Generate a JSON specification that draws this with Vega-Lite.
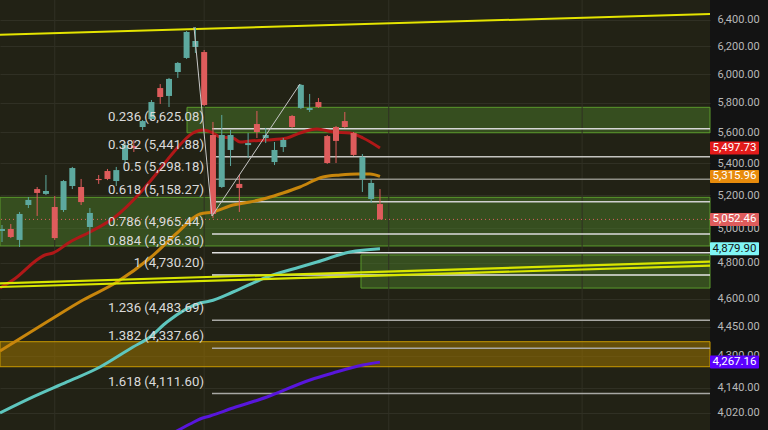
{
"$schema": "https://vega.github.io/schema/vega-lite/v6.json",
"width": 710,
"height": 430,
"autosize": {"type": "none"},
"padding": {"left": 0, "top": 0, "right": 58, "bottom": 0},
"background": "#131313",
"config": {"view": {"fill": "#222215", "stroke": null}, "font": "Roboto", "scale": {"continuousPadding": 0},
"axisY": {"format": ",.2f", "title": null, "ticks": false, "domain": false, "labelPadding": 7, "labelAlign": "left", "labelColor": "#b8b8b8", "labelFontSize": 11, "labelFont": "Roboto", "labelOverlap": false, "grid": true, "gridColor": "#303024", "gridWidth": 1}},
"datasets": {
"candles": [
{"i":0,"o":4983,"h":5019,"l":4919,"c":4995},
{"i":1,"o":4995,"h":5025,"l":4942,"c":4948},
{"i":2,"o":4931,"h":5097,"l":4890,"c":5085},
{"i":3,"o":5139,"h":5188,"l":5121,"c":5170},
{"i":4,"o":5237,"h":5250,"l":5073,"c":5213},
{"i":5,"o":5207,"h":5325,"l":5200,"c":5225},
{"i":6,"o":5127,"h":5194,"l":4931,"c":4942},
{"i":7,"o":5109,"h":5293,"l":5097,"c":5287},
{"i":8,"o":5256,"h":5376,"l":5237,"c":5369},
{"i":9,"o":5250,"h":5300,"l":5139,"c":5157},
{"i":10,"o":5007,"h":5121,"l":4896,"c":5091},
{"i":11,"o":5300,"h":5325,"l":5269,"c":5293},
{"i":12,"o":5350,"h":5363,"l":5293,"c":5300},
{"i":13,"o":5287,"h":5376,"l":5256,"c":5356},
{"i":14,"o":5420,"h":5537,"l":5395,"c":5517},
{"i":15,"o":5511,"h":5550,"l":5472,"c":5498},
{"i":16,"o":5636,"h":5683,"l":5616,"c":5676},
{"i":17,"o":5690,"h":5819,"l":5683,"c":5805},
{"i":18,"o":5902,"h":5930,"l":5792,"c":5840},
{"i":19,"o":5847,"h":5973,"l":5771,"c":5966},
{"i":20,"o":6015,"h":6087,"l":5973,"c":6080},
{"i":21,"o":6116,"h":6314,"l":6109,"c":6307},
{"i":22,"o":6196,"h":6344,"l":6152,"c":6240},
{"i":23,"o":6159,"h":6174,"l":5778,"c":5785},
{"i":24,"o":5583,"h":5670,"l":5061,"c":5085},
{"i":25,"o":5250,"h":5717,"l":5244,"c":5583},
{"i":26,"o":5485,"h":5616,"l":5382,"c":5583},
{"i":27,"o":5269,"h":5325,"l":5097,"c":5244},
{"i":28,"o":5517,"h":5596,"l":5433,"c":5530},
{"i":29,"o":5656,"h":5744,"l":5563,"c":5603},
{"i":30,"o":5563,"h":5630,"l":5530,"c":5583},
{"i":31,"o":5407,"h":5537,"l":5388,"c":5485},
{"i":32,"o":5504,"h":5563,"l":5472,"c":5550},
{"i":33,"o":5710,"h":5717,"l":5630,"c":5636},
{"i":34,"o":5764,"h":5930,"l":5757,"c":5924},
{"i":35,"o":5751,"h":5861,"l":5737,"c":5764},
{"i":36,"o":5805,"h":5833,"l":5764,"c":5771},
{"i":37,"o":5576,"h":5583,"l":5395,"c":5401},
{"i":38,"o":5636,"h":5643,"l":5401,"c":5544},
{"i":39,"o":5676,"h":5737,"l":5630,"c":5636},
{"i":40,"o":5596,"h":5603,"l":5446,"c":5453},
{"i":41,"o":5300,"h":5459,"l":5219,"c":5440},
{"i":42,"o":5176,"h":5300,"l":5151,"c":5275},
{"i":43,"o":5145,"h":5237,"l":5052.46,"c":5052.46}
],
"lines": [
{"s":"ma1","i":-0.23,"v":4658.4},{"s":"ma1","i":1.25,"v":4702.6},{"s":"ma1","i":4.89,"v":4843.9},{"s":"ma1","i":5.8,"v":4855.4},{"s":"ma1","i":7.74,"v":4919},{"s":"ma1","i":10.01,"v":4977.6},{"s":"ma1","i":12.86,"v":5066.7},{"s":"ma1","i":15.7,"v":5212.6},{"s":"ma1","i":17.63,"v":5337.5},{"s":"ma1","i":19.45,"v":5465.4},{"s":"ma1","i":21.73,"v":5596.3},{"s":"ma1","i":22.87,"v":5616.1},{"s":"ma1","i":24.0,"v":5596.3},{"s":"ma1","i":24.8,"v":5569.8},{"s":"ma1","i":26.28,"v":5563.2},{"s":"ma1","i":27.08,"v":5536.9},{"s":"ma1","i":28.21,"v":5543.5},{"s":"ma1","i":30.15,"v":5550},{"s":"ma1","i":32.42,"v":5563.2},{"s":"ma1","i":33.9,"v":5596.3},{"s":"ma1","i":35.84,"v":5622.8},{"s":"ma1","i":37.66,"v":5602.9},{"s":"ma1","i":39.59,"v":5596.3},{"s":"ma1","i":41.07,"v":5563.2},{"s":"ma1","i":43.0,"v":5497.73},
{"s":"ma2","i":-0.23,"v":4323.7},{"s":"ma2","i":5.46,"v":4485.2},{"s":"ma2","i":9.22,"v":4592.6},{"s":"ma2","i":13.08,"v":4691.5},{"s":"ma2","i":16.84,"v":4826.7},{"s":"ma2","i":19.91,"v":4971.7},{"s":"ma2","i":22.53,"v":5084.8},{"s":"ma2","i":24.0,"v":5096.8},{"s":"ma2","i":26.28,"v":5139.2},{"s":"ma2","i":28.21,"v":5157.4},{"s":"ma2","i":30.15,"v":5182},{"s":"ma2","i":31.97,"v":5212.6},{"s":"ma2","i":33.9,"v":5249.8},{"s":"ma2","i":36.52,"v":5312.3},{"s":"ma2","i":38.45,"v":5324.9},{"s":"ma2","i":40.39,"v":5331.2},{"s":"ma2","i":41.87,"v":5331.2},{"s":"ma2","i":43.0,"v":5315.96},
{"s":"ma3","i":-0.23,"v":4017.7},{"s":"ma3","i":3.53,"v":4094.7},{"s":"ma3","i":7.39,"v":4168.1},{"s":"ma3","i":11.15,"v":4242.7},{"s":"ma3","i":14.9,"v":4344.2},{"s":"ma3","i":16.84,"v":4395.9},{"s":"ma3","i":18.77,"v":4474.6},{"s":"ma3","i":22.53,"v":4576.4},{"s":"ma3","i":23.66,"v":4587},{"s":"ma3","i":26.28,"v":4636.4},{"s":"ma3","i":30.15,"v":4719.4},{"s":"ma3","i":33.9,"v":4775.6},{"s":"ma3","i":35.84,"v":4803.9},{"s":"ma3","i":39.59,"v":4861.1},{"s":"ma3","i":43.0,"v":4879.9},
{"s":"ma4","i":19.68,"v":3928.5},{"s":"ma4","i":21.39,"v":3965.7},{"s":"ma4","i":22.53,"v":3989.4},{"s":"ma4","i":23.66,"v":4003.6},{"s":"ma4","i":26.28,"v":4041.7},{"s":"ma4","i":30.15,"v":4094.7},{"s":"ma4","i":35.04,"v":4177.9},{"s":"ma4","i":37.66,"v":4212.7},{"s":"ma4","i":41.07,"v":4252.8},{"s":"ma4","i":43.0,"v":4267.16},
{"s":"y1","i":-0.2275,"v":6286.7},{"s":"y1","i":80.546,"v":6442.6},
{"s":"y2","i":-0.2275,"v":4684.4},{"s":"y2","i":80.546,"v":4805.6},
{"s":"y3","i":-0.2275,"v":4663.9},{"s":"y3","i":80.546,"v":4783},
{"s":"dg","i":21.84,"v":6344.3},{"s":"dg","i":23.89,"v":5072.7},{"s":"dg","i":33.9,"v":5930.4}
],
"zones": [
{"z":"g","i1":21.05,"i2":80.546,"v1":5769,"v2":5598},
{"z":"g","i1":-0.2275,"i2":80.546,"v1":5186,"v2":4896},
{"z":"g","i1":40.84,"i2":80.546,"v1":4844,"v2":4658},
{"z":"o","i1":-0.2275,"i2":80.546,"v1":4371.5,"v2":4244}
],
"fib": [
{"lvl":"0.236","v":5625.08,"label":"0.236 (5,625.08)"},
{"lvl":"0.382","v":5441.88,"label":"0.382 (5,441.88)"},
{"lvl":"0.5","v":5298.18,"label":"0.5 (5,298.18)"},
{"lvl":"0.618","v":5158.27,"label":"0.618 (5,158.27)"},
{"lvl":"0.786","v":4965.44,"label":"0.786 (4,965.44)"},
{"lvl":"0.884","v":4856.30,"label":"0.884 (4,856.30)"},
{"lvl":"1","v":4730.20,"label":"1 (4,730.20)"},
{"lvl":"1.236","v":4483.69,"label":"1.236 (4,483.69)"},
{"lvl":"1.382","v":4337.66,"label":"1.382 (4,337.66)"},
{"lvl":"1.618","v":4111.60,"label":"1.618 (4,111.60)"}
],
"tags": [
{"k":"ma1","v":5497.73},
{"k":"ma2","v":5315.96},
{"k":"last","v":5052.46},
{"k":"ma3","v":4879.90},
{"k":"ma4","v":4267.16}
],
"vgrid": [{"i":6},{"i":23},{"i":44},{"i":66}]
},
"layer": [
{
"data": {"name": "zones"},
"transform": [{"filter": "datum.z == 'g'"}],
"mark": {"type": "rect", "fill": "#4a7a2a", "fillOpacity": 0.5, "stroke": "#5a9a2c", "strokeWidth": 1},
"encoding": {
"x": {"field": "i1", "type": "quantitative", "scale": {"domain": [-0.2275, 80.546], "nice": false, "zero": false, "padding": 0}, "axis": null},
"x2": {"field": "i2"},
"y": {"field": "v1", "type": "quantitative", "scale": {"type": "log", "domain": [3937.8, 6550.2], "nice": false, "padding": 0}, "axis": {"orient": "right", "title": null, "values": [6400,6200,6000,5800,5600,5400,5200,5000,4800,4600,4450,4300,4140,4020]}},
"y2": {"field": "v2"}
}
},
{
"data": {"name": "vgrid"},
"mark": {"type": "rule", "color": "#303024", "strokeWidth": 1},
"encoding": {
"x": {"field": "i", "type": "quantitative", "scale": {"domain": [-0.2275, 80.546], "nice": false, "zero": false, "padding": 0}, "axis": null}
}
},
{
"data": {"name": "zones"},
"transform": [{"filter": "datum.z == 'o'"}],
"mark": {"type": "rect", "fill": "#9a7300", "fillOpacity": 0.55, "stroke": "#c99a00", "strokeWidth": 1},
"encoding": {
"x": {"field": "i1", "type": "quantitative", "scale": {"domain": [-0.2275, 80.546], "nice": false, "zero": false, "padding": 0}, "axis": null},
"x2": {"field": "i2"},
"y": {"field": "v1", "type": "quantitative", "scale": {"type": "log", "domain": [3937.8, 6550.2], "nice": false, "padding": 0}, "axis": {"orient": "right", "title": null, "values": [6400,6200,6000,5800,5600,5400,5200,5000,4800,4600,4450,4300,4140,4020]}},
"y2": {"field": "v2"}
}
},
{
"data": {"name": "fib"},
"mark": {"type": "rule", "strokeWidth": 1.5},
"encoding": {
"x": {"datum": 23.89, "type": "quantitative", "scale": {"domain": [-0.2275, 80.546], "nice": false, "zero": false, "padding": 0}, "axis": null},
"x2": {"datum": 80.546},
"y": {"field": "v", "type": "quantitative", "scale": {"type": "log", "domain": [3937.8, 6550.2], "nice": false, "padding": 0}, "axis": {"orient": "right", "title": null, "values": [6400,6200,6000,5800,5600,5400,5200,5000,4800,4600,4450,4300,4140,4020]}},
"color": {"field": "lvl", "type": "nominal", "legend": null, "scale": {"domain": ["0.236","0.382","0.5","0.618","0.786","0.884","1","1.236","1.382","1.618"], "range": ["#d6d6d6","#c4c4c0","#8e8e86","#d0d0d0","#dcdcdc","#e0e0e0","#e6e6e6","#a8a8a4","#a8a8a4","#a8a8a4"]}}
}
},
{
"data": {"values": [{"v": 5052.46}]},
"mark": {"type": "rule", "color": "#e06060", "strokeWidth": 1, "strokeDash": [1, 3]},
"encoding": {
"y": {"field": "v", "type": "quantitative", "scale": {"type": "log", "domain": [3937.8, 6550.2], "nice": false, "padding": 0}, "axis": {"orient": "right", "title": null, "values": [6400,6200,6000,5800,5600,5400,5200,5000,4800,4600,4450,4300,4140,4020]}}
}
},
{
"data": {"name": "lines"},
"transform": [{"filter": "indexof(['ma1','ma2','ma3','ma4'], datum.s) >= 0"}],
"mark": {"type": "line", "strokeWidth": 3, "interpolate": "monotone"},
"encoding": {
"x": {"field": "i", "type": "quantitative", "scale": {"domain": [-0.2275, 80.546], "nice": false, "zero": false, "padding": 0}, "axis": null},
"y": {"field": "v", "type": "quantitative", "scale": {"type": "log", "domain": [3937.8, 6550.2], "nice": false, "padding": 0}, "axis": {"orient": "right", "title": null, "values": [6400,6200,6000,5800,5600,5400,5200,5000,4800,4600,4450,4300,4140,4020]}},
"stroke": {"field": "s", "type": "nominal", "legend": null, "scale": {"domain": ["ma1","ma2","ma3","ma4"], "range": ["#b01818","#c8860c","#5ec6be","#5816dc"]}},
"order": {"field": "i", "type": "quantitative"}
}
},
{
"data": {"name": "lines"},
"transform": [{"filter": "datum.s == 'y2' || datum.s == 'y3'"}],
"mark": {"type": "line", "strokeWidth": 2.2, "color": "#d8e600"},
"encoding": {
"x": {"field": "i", "type": "quantitative", "scale": {"domain": [-0.2275, 80.546], "nice": false, "zero": false, "padding": 0}, "axis": null},
"y": {"field": "v", "type": "quantitative", "scale": {"type": "log", "domain": [3937.8, 6550.2], "nice": false, "padding": 0}, "axis": {"orient": "right", "title": null, "values": [6400,6200,6000,5800,5600,5400,5200,5000,4800,4600,4450,4300,4140,4020]}},
"detail": {"field": "s"},
"order": {"field": "i", "type": "quantitative"}
}
},
{
"data": {"name": "lines"},
"transform": [{"filter": "datum.s == 'y1'"}],
"mark": {"type": "line", "strokeWidth": 2, "color": "#e4e400"},
"encoding": {
"x": {"field": "i", "type": "quantitative", "scale": {"domain": [-0.2275, 80.546], "nice": false, "zero": false, "padding": 0}, "axis": null},
"y": {"field": "v", "type": "quantitative", "scale": {"type": "log", "domain": [3937.8, 6550.2], "nice": false, "padding": 0}, "axis": {"orient": "right", "title": null, "values": [6400,6200,6000,5800,5600,5400,5200,5000,4800,4600,4450,4300,4140,4020]}},
"order": {"field": "i", "type": "quantitative"}
}
},
{
"data": {"name": "candles"},
"mark": {"type": "rule", "strokeWidth": 1},
"encoding": {
"x": {"field": "i", "type": "quantitative", "scale": {"domain": [-0.2275, 80.546], "nice": false, "zero": false, "padding": 0}, "axis": null},
"y": {"field": "l", "type": "quantitative", "scale": {"type": "log", "domain": [3937.8, 6550.2], "nice": false, "padding": 0}, "axis": {"orient": "right", "title": null, "values": [6400,6200,6000,5800,5600,5400,5200,5000,4800,4600,4450,4300,4140,4020]}},
"y2": {"field": "h"},
"color": {"condition": {"test": "datum.c >= datum.o", "value": "#5da99f"}, "value": "#de5c5c"}
}
},
{
"data": {"name": "candles"},
"mark": {"type": "bar", "width": 6},
"encoding": {
"x": {"field": "i", "type": "quantitative", "scale": {"domain": [-0.2275, 80.546], "nice": false, "zero": false, "padding": 0}, "axis": null},
"y": {"field": "o", "type": "quantitative", "scale": {"type": "log", "domain": [3937.8, 6550.2], "nice": false, "padding": 0}, "axis": {"orient": "right", "title": null, "values": [6400,6200,6000,5800,5600,5400,5200,5000,4800,4600,4450,4300,4140,4020]}},
"y2": {"field": "c"},
"color": {"condition": {"test": "datum.c >= datum.o", "value": "#5da99f"}, "value": "#de5c5c"}
}
},
{
"data": {"name": "lines"},
"transform": [{"filter": "datum.s == 'dg'"}],
"mark": {"type": "line", "strokeWidth": 1, "color": "#c8c8c8"},
"encoding": {
"x": {"field": "i", "type": "quantitative", "scale": {"domain": [-0.2275, 80.546], "nice": false, "zero": false, "padding": 0}, "axis": null},
"y": {"field": "v", "type": "quantitative", "scale": {"type": "log", "domain": [3937.8, 6550.2], "nice": false, "padding": 0}, "axis": {"orient": "right", "title": null, "values": [6400,6200,6000,5800,5600,5400,5200,5000,4800,4600,4450,4300,4140,4020]}},
"order": {"field": "i", "type": "quantitative"}
}
},
{
"data": {"name": "fib"},
"mark": {"type": "text", "align": "right", "baseline": "middle", "dy": -12, "fontSize": 13.2, "font": "Roboto", "color": "#dadada"},
"encoding": {
"x": {"datum": 22.98, "type": "quantitative", "scale": {"domain": [-0.2275, 80.546], "nice": false, "zero": false, "padding": 0}, "axis": null},
"y": {"field": "v", "type": "quantitative", "scale": {"type": "log", "domain": [3937.8, 6550.2], "nice": false, "padding": 0}, "axis": {"orient": "right", "title": null, "values": [6400,6200,6000,5800,5600,5400,5200,5000,4800,4600,4450,4300,4140,4020]}},
"text": {"field": "label"}
}
},
{
"data": {"name": "tags"},
"mark": {"type": "bar", "height": 13, "cornerRadius": 1},
"encoding": {
"x": {"datum": 80.546, "type": "quantitative", "scale": {"domain": [-0.2275, 80.546], "nice": false, "zero": false, "padding": 0}, "axis": null},
"x2": {"datum": 86.12},
"y": {"field": "v", "type": "quantitative", "scale": {"type": "log", "domain": [3937.8, 6550.2], "nice": false, "padding": 0}, "axis": {"orient": "right", "title": null, "values": [6400,6200,6000,5800,5600,5400,5200,5000,4800,4600,4450,4300,4140,4020]}},
"fill": {"field": "k", "type": "nominal", "legend": null, "scale": {"domain": ["ma1","ma2","last","ma3","ma4"], "range": ["#e31b1b","#e88b0c","#de5c5c","#80f6f6","#5c00ff"]}}
}
},
{
"data": {"name": "tags"},
"mark": {"type": "text", "align": "center", "baseline": "middle", "fontSize": 11.5, "font": "Roboto"},
"encoding": {
"x": {"datum": 83.33, "type": "quantitative", "scale": {"domain": [-0.2275, 80.546], "nice": false, "zero": false, "padding": 0}, "axis": null},
"y": {"field": "v", "type": "quantitative", "scale": {"type": "log", "domain": [3937.8, 6550.2], "nice": false, "padding": 0}, "axis": {"orient": "right", "title": null, "values": [6400,6200,6000,5800,5600,5400,5200,5000,4800,4600,4450,4300,4140,4020]}},
"text": {"field": "v", "type": "quantitative", "format": ",.2f"},
"color": {"condition": {"test": "datum.k == 'ma3'", "value": "#131313"}, "value": "#ffffff"}
}
}
]
}
